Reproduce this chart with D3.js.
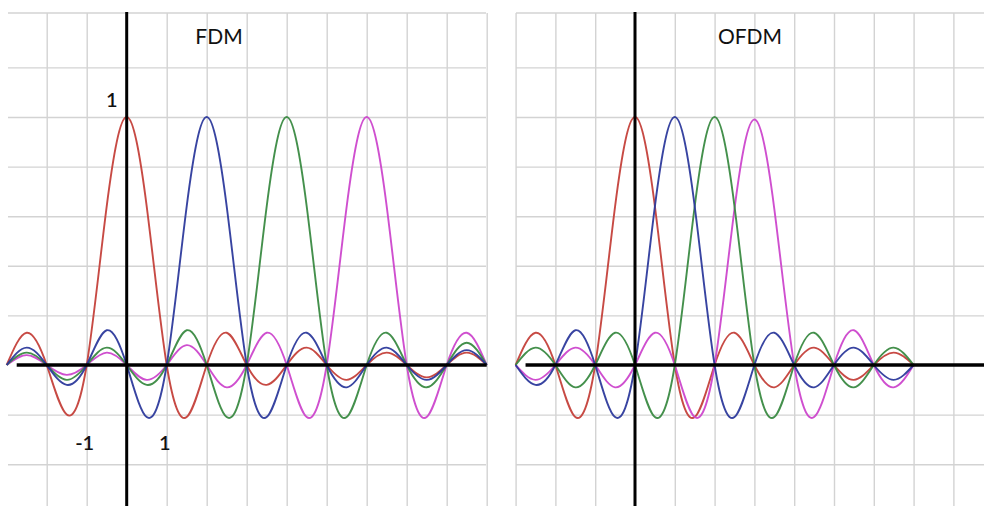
<!DOCTYPE html>
<html>
<head>
<meta charset="utf-8">
<script src="https://cdn.jsdelivr.net/npm/d3@7/dist/d3.min.js"></script>
<style>
  html, body { margin: 0; padding: 0; background: #fff; }
  svg { display: block; }
  text { font-family: Lato, "Open Sans", "Liberation Sans", sans-serif; fill: #111; }
</style>
</head>
<body>
<svg id="chart" width="984" height="506"></svg>
<script>
// ---------- data ----------
// sample positions: every half unit
const fdmX = [-3,-2.5,-2,-1.5,-1,-0.5,0,0.5,1,1.5,2,2.5,3,3.5,4,4.5,5,5.5,6,6.5,7,7.5,8,8.5,9];
const fdmRed     = [0,0.13,0,-0.2,0,0.64,1,0.64,0,-0.21,0,0.13,0,-0.08,0,0.07,0,-0.06,0,0.05,0,-0.05,0,0.05,0];
const fdmBlue    = [0,0.07,0,-0.08,0,0.14,0,-0.21,0,0.64,1,0.64,0,-0.21,0,0.13,0,-0.09,0,0.07,0,-0.06,0,0.06,0];
const fdmGreen   = [0,0.05,0,-0.06,0,0.07,0,-0.08,0,0.14,0,-0.21,0,0.64,1,0.64,0,-0.21,0,0.13,0,-0.09,0,0.09,0];
const fdmMagenta = [0,0.04,0,-0.04,0,0.05,0,-0.06,0,0.08,0,-0.09,0,0.13,0,-0.21,0,0.64,1,0.64,0,-0.21,0,0.13,0];

const ofdmX = [-3,-2.5,-2,-1.5,-1,-0.5,0,0.5,1,1.5,2,2.5,3,3.5,4,4.5,5,5.5,6,6.5,7];
const ofdmRed     = [0,0.13,0,-0.21,0,0.64,1,0.64,0,-0.21,0,0.13,0,-0.09,0,0.07,0,-0.06,0,0.05,0];
const ofdmBlue    = [0,-0.08,0,0.14,0,-0.21,0,0.64,1,0.64,0,-0.21,0,0.13,0,-0.09,0,0.07,0,-0.06,0];
const ofdmGreen   = [0,0.07,0,-0.09,0,0.13,0,-0.21,0,0.64,1,0.64,0,-0.21,0,0.13,0,-0.09,0,0.07,0];
const ofdmMagenta = [0,-0.06,0,0.07,0,-0.09,0,0.13,0,-0.21,0,0.63,0.99,0.63,0,-0.21,0,0.14,0,-0.09,0];

const panelTitles = ["FDM", "OFDM"];
const xTickValues = [-1, 1];
const xTickLabels = ["-1", "1"];
const yTickValues = [1];
const yTickLabels = ["1"];
const gridYValues = [-0.4,-0.2,0.2,0.4,0.6,0.8,1.0,1.2];

// ---------- layout ----------
const svg = d3.select("#chart");
const W = 984, H = 506;
const y = d3.scaleLinear().domain([0, 1]).range([365, 117]);
const gridTop = 13;

const colors = { red: "#c4403a", blue: "#2d3a9c", green: "#3a8a42", magenta: "#cc46cc" };

const panels = [
  {
    title: panelTitles[0], titleX: 219,
    x: d3.scaleLinear().domain([0, 1]).range([126.7, 166.7]),
    gridLeft: 8, gridRight: 486, vLines: d3.range(-2, 10), edgeLine: false,
    axisFrom: -2.75, axisTo: 9,
    xs: fdmX,
    series: [["red", fdmRed], ["magenta", fdmMagenta], ["green", fdmGreen], ["blue", fdmBlue]],
    labels: true
  },
  {
    title: panelTitles[1], titleX: 750,
    x: d3.scaleLinear().domain([0, 1]).range([635, 674.8]),
    gridLeft: 516, gridRight: 984, vLines: d3.range(-3, 9), edgeLine: true,
    axisFrom: -2.75, axisTo: null,
    xs: ofdmX,
    series: [["red", ofdmRed], ["magenta", ofdmMagenta], ["green", ofdmGreen], ["blue", ofdmBlue]],
    labels: false
  }
];

panels.forEach(p => {
  const g = svg.append("g");
  const x = p.x;

  // grid: horizontal lines via axis
  const gy = g.append("g").attr("transform", `translate(${p.gridLeft},0)`)
    .call(d3.axisLeft(y).tickValues(gridYValues).tickSize(-(p.gridRight - p.gridLeft)).tickFormat(""));
  gy.select(".domain").remove();
  gy.selectAll(".tick line").attr("stroke", "#d3d3d3").attr("stroke-width", 1.4);

  // top border line
  g.append("line").attr("x1", p.gridLeft).attr("x2", p.gridRight)
    .attr("y1", gridTop).attr("y2", gridTop)
    .attr("stroke", "#d3d3d3").attr("stroke-width", 1.4);

  // grid: vertical lines via axis
  const gx = g.append("g").attr("transform", `translate(0,${gridTop})`)
    .call(d3.axisBottom(x).tickValues(p.vLines.filter(v => v !== 0)).tickSize(H - gridTop).tickFormat(""));
  gx.select(".domain").remove();
  gx.selectAll(".tick line").attr("stroke", "#d3d3d3").attr("stroke-width", 1.4);

  // curves
  const line = d3.line().x(d => x(d[0])).y(d => y(d[1])).curve(d3.curveNatural);
  p.series.forEach(([c, vals]) => {
    const pts = p.xs.map((xv, i) => [xv, vals[i]]);
    g.append("path").attr("d", line(pts))
      .attr("fill", "none").attr("stroke", colors[c]).attr("stroke-width", 1.9)
      .attr("stroke-linejoin", "round").attr("opacity", 0.95);
  });

  // axes (thick black)
  g.append("line")
    .attr("x1", x(p.axisFrom)).attr("x2", p.axisTo === null ? W : x(p.axisTo))
    .attr("y1", y(0)).attr("y2", y(0))
    .attr("stroke", "#000").attr("stroke-width", 3.5);
  g.append("line")
    .attr("x1", x(0)).attr("x2", x(0))
    .attr("y1", gridTop - 1).attr("y2", H)
    .attr("stroke", "#000").attr("stroke-width", 3);

  // title
  g.append("text").attr("x", p.titleX).attr("y", 44)
    .attr("text-anchor", "middle").attr("font-size", 21).text(p.title);

  if (p.labels) {
    xTickValues.forEach((v, i) => {
      g.append("text").attr("x", x(v) - 2).attr("y", 450)
        .attr("text-anchor", "middle").attr("font-size", 20).attr("font-weight", 600)
        .text(xTickLabels[i]);
    });
    yTickValues.forEach((v, i) => {
      g.append("text").attr("x", x(0) - 9).attr("y", y(v) - 10)
        .attr("text-anchor", "end").attr("font-size", 20).attr("font-weight", 600)
        .text(yTickLabels[i]);
    });
  }
});
</script>
</body>
</html>
